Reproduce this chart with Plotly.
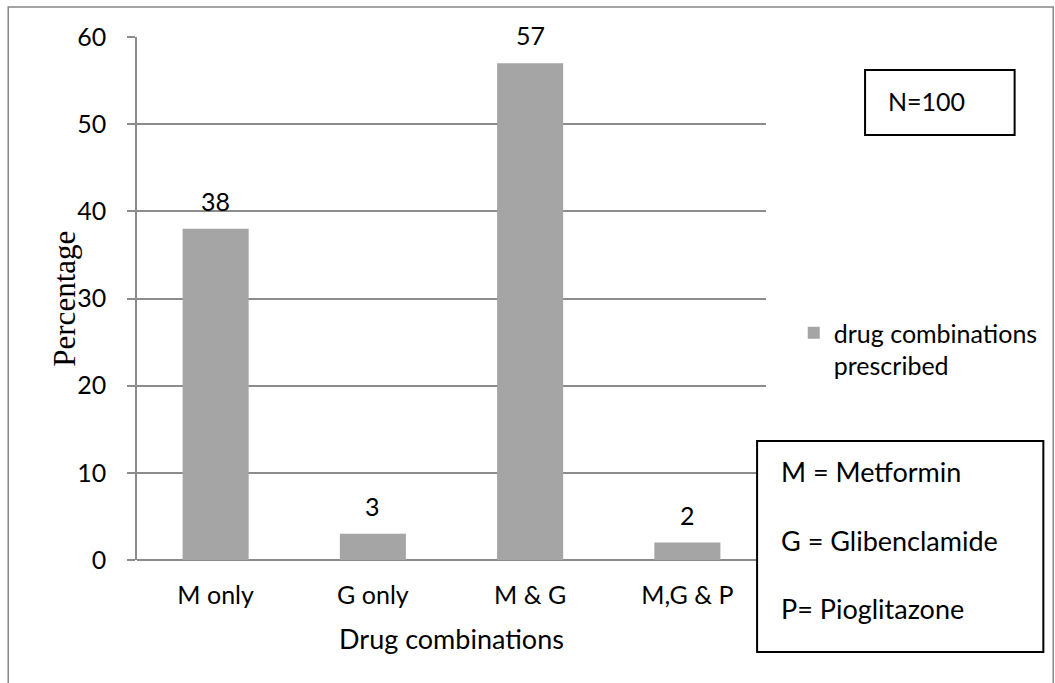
import plotly.graph_objects as go

# Share of patients by prescribed drug combination (N=100)
categories = ["M only", "G only", "M & G", "M,G & P"]
percentages = [38, 3, 57, 2]
y_ticks = [0, 10, 20, 30, 40, 50, 60]
series_name = "drug combinations<br>prescribed"
key_lines = ["M = Metformin", "G = Glibenclamide", "P= Pioglitazone"]
sample_note = "N=100"

W, H = 1055, 683
ML, MR, MT, MB = 137, 283, 37, 123
PW, PH = W - ML - MR, H - MT - MB


def px(x):
    return (x - ML) / PW


def py(y):
    return (H - MB - y) / PH


FONT = "Lato"
BAR = "#a5a5a5"
GRID = "#8c8c8c"

fig = go.Figure()
fig.add_trace(go.Bar(
    x=categories,
    y=percentages,
    name=series_name,
    marker=dict(color=BAR, line=dict(width=0)),
    width=0.42,
    showlegend=True,
))

# value labels above each bar
for c, v in zip(categories, percentages):
    fig.add_annotation(x=c, y=v, text=str(v), showarrow=False,
                       yanchor="middle", yshift=28,
                       font=dict(family=FONT, size=25, color="black"))

shapes = [
    # outer chart border
    dict(type="rect", xref="paper", yref="paper",
         x0=px(7), y0=py(7), x1=px(1062), y1=py(692),
         line=dict(color="#878787", width=1.5), layer="below"),
    # sample size box
    dict(type="rect", xref="paper", yref="paper",
         x0=px(872), y0=py(70), x1=px(1023), y1=py(135),
         line=dict(color="black", width=2), fillcolor="white", layer="above"),
    # abbreviation key box
    dict(type="rect", xref="paper", yref="paper",
         x0=px(763), y0=py(441), x1=px(1052), y1=py(652),
         line=dict(color="black", width=2), fillcolor="white", layer="above"),
]

fig.add_annotation(xref="paper", yref="paper", x=px(893), y=py(101),
                   xanchor="left", yanchor="middle", text=sample_note,
                   showarrow=False, font=dict(family=FONT, size=25, color="black"))
for i, line in enumerate(key_lines):
    fig.add_annotation(xref="paper", yref="paper", x=px(785), y=py(472 + 68 * i),
                       xanchor="left", yanchor="middle", text=line,
                       showarrow=False, font=dict(family=FONT, size=27, color="black"))

# y-axis title set in a serif face
fig.add_annotation(xref="paper", yref="paper", x=px(63), y=py(299),
                   xanchor="center", yanchor="middle", textangle=-90,
                   text="Percentage", showarrow=False,
                   font=dict(family="Liberation Serif", size=31, color="black"))

fig.update_layout(
    width=W, height=H,
    margin=dict(l=ML, r=MR, t=MT, b=MB, pad=0),
    paper_bgcolor="white", plot_bgcolor="white",
    shapes=shapes,
    bargap=0.58,
    legend=dict(x=px(800), y=py(310), xanchor="left", yanchor="top",
                font=dict(family=FONT, size=25, color="black"),
                valign="top", bgcolor="rgba(0,0,0,0)", itemwidth=30,
                tracegroupgap=0),
    xaxis=dict(
        type="category",
        range=[-0.5, 3.5],
        showgrid=False, zeroline=False,
        showline=False, ticks="",
        tickfont=dict(family=FONT, size=25, color="black"),
        ticklabelstandoff=18,
        title=dict(text="Drug combinations",
                   font=dict(family=FONT, size=27, color="black"),
                   standoff=22),
    ),
    yaxis=dict(
        range=[0, 60],
        tickvals=y_ticks,
        showgrid=True, gridcolor=GRID, gridwidth=1.5,
        zeroline=True, zerolinecolor=GRID, zerolinewidth=1.5,
        showline=True, linecolor=GRID, linewidth=1.5,
        ticks="outside", ticklen=8, tickcolor=GRID, tickwidth=1.5,
        ticklabelstandoff=16,
        tickfont=dict(family=FONT, size=25, color="black"),
    ),
)

fig.write_html("out.html")
